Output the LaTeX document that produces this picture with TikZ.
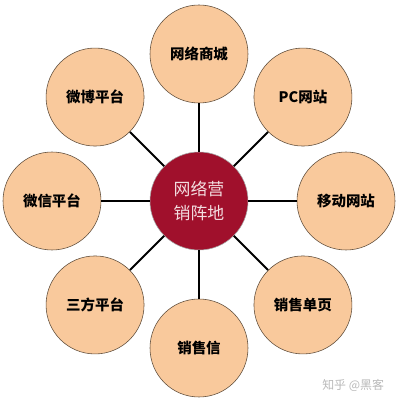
\documentclass[tikz,border=0pt]{standalone}
\usepackage{fontspec}
\newfontfamily\cjk{Noto Sans CJK SC}
\usetikzlibrary{positioning}

\definecolor{peach}{HTML}{F9C99C}
\definecolor{peachline}{HTML}{5E4C3A}
\definecolor{hubred}{HTML}{A0102C}
\definecolor{hubtext}{HTML}{F3DDE0}

\begin{document}
\begin{tikzpicture}[
    hub/.style={circle, draw=gray!70, fill=hubred, minimum size=24.5mm, inner sep=0pt,
        text=hubtext, font=\cjk\fontsize{12}{16.5}\selectfont, align=center},
    spoke/.style={circle, draw=peachline, fill=peach, minimum size=24.5mm, inner sep=0pt,
        font=\cjk\bfseries\fontsize{10.3}{12}\selectfont},
    link/.style={draw=black, line width=1.3pt},
    wmark/.style={text=gray!55, font=\cjk\fontsize{8.5}{10}\selectfont}
]
\useasboundingbox (-4.975,-4.975) rectangle (5.025,5.025);

% Parameters for ease of adjustments
\newcommand{\SpokeDist}{3.675}

% Centre node
\node[hub] (hub) at (0,0) {网络营\\销阵地};

% Outer nodes, clockwise from the top
\foreach \ang/\name/\txt in {90/top/网络商城, 45/pc/PC网站, 0/mobile/移动网站,
    -45/page/销售单页, -90/letter/销售信, -135/third/三方平台,
    180/wechat/微信平台, 135/weibo/微博平台}{
    \node[spoke] (spoke-\name) at (\ang:\SpokeDist) {\txt};
    \draw[link] (hub) -- (spoke-\name);
}

% Watermark
\node[wmark, anchor=east] (watermark) at (4.75,-4.6) {知乎 @黑客};

\end{tikzpicture}
\end{document}
